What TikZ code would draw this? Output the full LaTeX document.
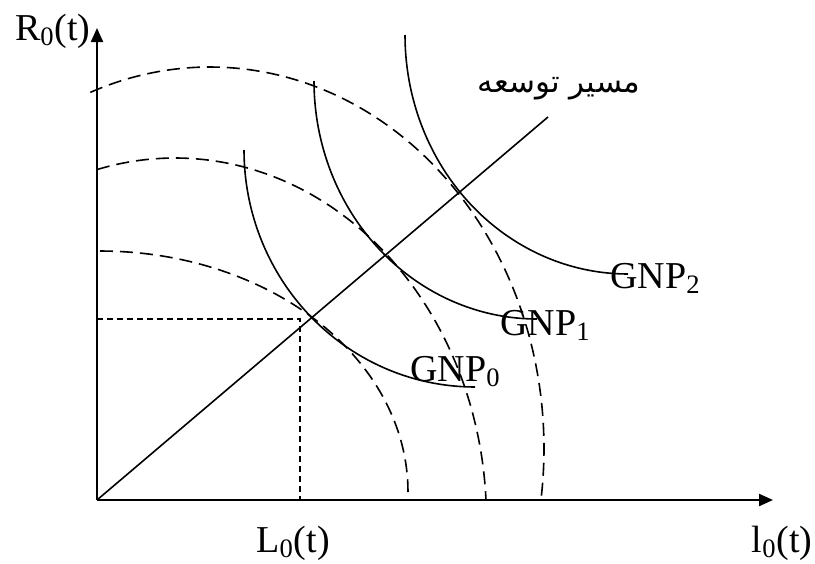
\documentclass[tikz,border=0pt]{standalone}
\usepackage{fontspec}
\setmainfont{Liberation Serif}
\newfontfamily\persa[Script=Arabic]{DejaVu Sans}
\TeXXeTstate=1
\usetikzlibrary{arrows.meta}

\begin{document}
\begin{tikzpicture}[
		% Unidades en pixeles de la figura (y hacia abajo)
		x=0.5pt, y=-0.5pt,
		% Estilos de ejes y curvas
		eje/.style={line width=1.1pt, -{Triangle[length=7pt, width=6pt]}},
		isocuanta/.style={line width=0.8pt},
		frontera/.style={line width=0.8pt, dash pattern=on 6.5pt off 3.5pt},
		guia/.style={line width=0.8pt, dash pattern=on 3pt off 2pt},
		senda/.style={line width=0.8pt},
		% Estilo de etiquetas
		etiqueta/.style={font=\fontsize{19}{22}\selectfont, inner sep=0pt}
		]
		\useasboundingbox (0,0) rectangle (815,563);
		
		% --- PUNTOS DE REFERENCIA ---
		\coordinate (origen) at (97,500);
		\coordinate (tope_y) at (97,28);
		\coordinate (tope_x) at (773,500);
		\coordinate (fin_senda) at (548,117);
		\coordinate (punto_e) at (300,319);
		
		% --- EJES ---
		\draw[eje] (origen) -- (tope_y);
		\draw[eje] (origen) -- (tope_x);
		\node[etiqueta, anchor=base east] (etq_r) at (91,40) {R\textsubscript{0}(t)};
		\node[etiqueta, anchor=base] (etq_L) at (293,552) {L\textsubscript{0}(t)};
		\node[etiqueta, anchor=base east] (etq_l) at (813,552) {l\textsubscript{0}(t)};
		
		% --- FRONTERAS (discontinuas) ---
		\draw[frontera] plot[domain=-90:0, samples=60, smooth, variable=\t] ({100+308*cos(\t)}, {492+241*sin(\t)});
		\draw[frontera] plot[domain=-104.5:-3.2, samples=60, smooth, variable=\t] ({175+311.5*cos(\t)}, {520+362*sin(\t)});
		\draw[frontera] plot[domain=-111:7.7, samples=70, smooth, variable=\t] ({210+334*cos(\t)}, {448.6+381.6*sin(\t)});
		
		% --- ISOCUANTAS GNP ---
		\draw[isocuanta] plot[domain=90:180, samples=50, smooth, variable=\t] ({475+231*cos(\t)}, {150+237*sin(\t)});
		\draw[isocuanta] plot[domain=90:180, samples=50, smooth, variable=\t] ({537+223*cos(\t)}, {81+238*sin(\t)});
		\draw[isocuanta] plot[domain=90:180, samples=50, smooth, variable=\t] ({628+223*cos(\t)}, {35+239*sin(\t)});
		\node[etiqueta, anchor=base west] (gnp0) at (410,381) {GNP\textsubscript{0}};
		\node[etiqueta, anchor=base west] (gnp1) at (500,335) {GNP\textsubscript{1}};
		\node[etiqueta, anchor=base west] (gnp2) at (610,288) {GNP\textsubscript{2}};
		
		% --- SENDA DE EXPANSION ---
		\draw[senda] (origen) -- (fin_senda);
		\node[font=\persa\fontsize{15.5}{18}\selectfont, anchor=base east, inner sep=0pt] (etq_senda) at (641,92) {\beginR مسیر توسعه\endR};
		
		% --- LINEAS GUIA ---
		\draw[guia] (origen |- punto_e) -- (punto_e) -- (punto_e |- origen);
		
	\end{tikzpicture}
\end{document}
